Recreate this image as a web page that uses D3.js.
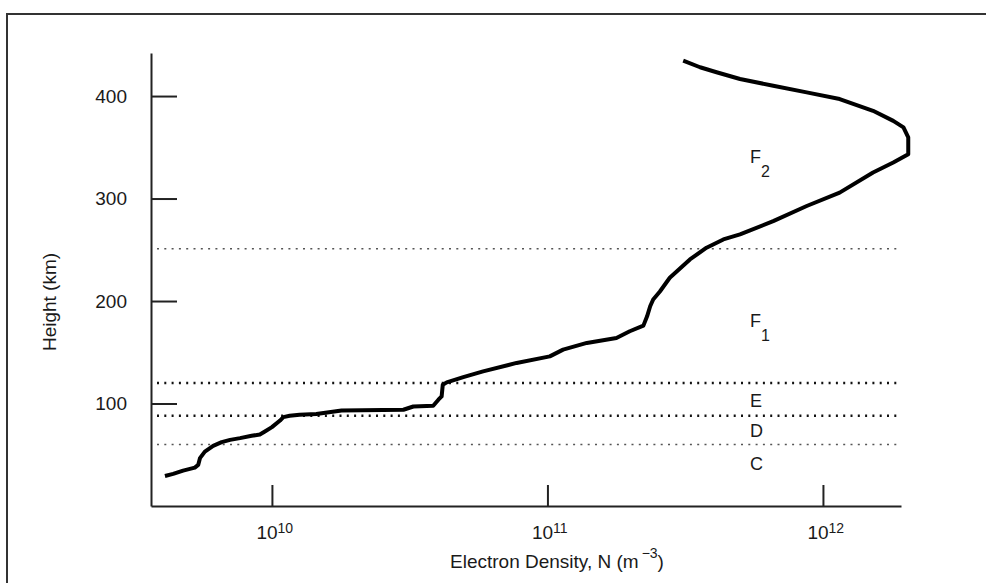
<!DOCTYPE html>
<html>
<head>
<meta charset="utf-8">
<script src="https://cdn.jsdelivr.net/npm/d3@7"></script>
<style>
  body { margin: 0; background: #fff; }
  svg { display: block; }
  text { font-family: "Liberation Sans", Arial, sans-serif; fill: #1a1a1a; }
</style>
</head>
<body>
<script>
// profile, bottom to top
const heightsKm = [29.3, 31.3, 34.5, 37.5, 40.1, 46.7, 53.1, 58.7, 62.3, 64.5,
  66.2, 68.5, 69.7, 72.7, 77.0, 83.4, 86.7, 88.0, 89.0, 89.7,
  93.2, 93.9, 97.1, 97.8, 103.7, 106.9, 118.3, 120.6, 125.7, 131.3,
  139.6, 146.0, 152.6, 159.1, 164.0, 170.5, 176.0, 185.1, 194.9, 201.5,
  209.3, 222.7, 240.6, 252.0, 260.1, 265.0, 278.0, 292.7, 305.8, 325.4,
  335.2, 343.3, 359.6, 369.4, 375.8, 385.6, 397.1, 403.6, 410.1, 416.6,
  423.2, 428.1, 434.5];
const densities = [4.09e9, 4.38e9, 4.76e9, 5.25e9, 5.40e9, 5.48e9, 5.71e9, 6.12e9, 6.57e9, 7.05e9,
  7.66e9, 8.44e9, 9.04e9, 9.43e9, 1.00e10, 1.07e10, 1.10e10, 1.16e10, 1.26e10, 1.45e10,
  1.79e10, 3.00e10, 3.26e10, 3.85e10, 4.02e10, 4.13e10, 4.17e10, 4.31e10, 4.95e10, 5.84e10,
  7.73e10, 1.02e11, 1.14e11, 1.39e11, 1.78e11, 1.99e11, 2.23e11, 2.30e11, 2.36e11, 2.42e11,
  2.56e11, 2.78e11, 3.29e11, 3.78e11, 4.35e11, 5.00e11, 6.60e11, 8.73e11, 1.15e12, 1.52e12,
  1.80e12, 2.04e12, 2.04e12, 1.96e12, 1.80e12, 1.52e12, 1.15e12, 8.73e11, 6.60e11, 5.00e11,
  4.11e11, 3.58e11, 3.11e11];

const densityExtent = [3.64e9, 1.92e12];
const heightExtent = [0, 442];
const decadeTicks = [1e10, 1e11, 1e12];
const decadeExponents = ["10", "11", "12"];
const heightTicks = [100, 200, 300, 400];

// layer boundaries (km) and region labels
const boundaryHeights = [60, 88, 120, 251];
const regionLetters = ["F", "F", "E", "D", "C"];
const regionSubs = ["2", "1", "", "", ""];
const regionHeights = [334.6, 174.6, 96.6, 67.3, 35.1];
const regionDensity = 5.43e11;

const width = 986, height = 583;

const svg = d3.select("body").append("svg")
  .attr("width", width)
  .attr("height", height);

// frame (runs off the right / bottom of the picture)
svg.append("rect")
  .attr("x", 7).attr("y", 14)
  .attr("width", 1000).attr("height", 600)
  .attr("fill", "none")
  .attr("stroke", "#333")
  .attr("stroke-width", 2);

const x = d3.scaleLog().domain(densityExtent).range([151, 901]);
const y = d3.scaleLinear().domain(heightExtent).range([506, 53]);

// dotted boundaries
const boldLines = [88, 120];
svg.selectAll(".bound")
  .data(boundaryHeights)
  .enter()
  .append("line")
  .attr("class", "bound")
  .attr("x1", 157).attr("x2", x.range()[1])
  .attr("y1", d => y(d)).attr("y2", d => y(d))
  .attr("stroke", d => boldLines.includes(d) ? "#111" : "#555")
  .attr("stroke-width", d => boldLines.includes(d) ? 2.6 : 1.6)
  .attr("stroke-dasharray", "2 5.3");

// x axis
const xAxis = svg.append("g")
  .attr("transform", `translate(0,${y(0)})`)
  .call(d3.axisBottom(x).tickValues(decadeTicks).tickSizeInner(-21).tickSizeOuter(0).tickFormat(""));

xAxis.selectAll(".tick text").remove();
xAxis.selectAll(".tick").each(function (d, i) {
  let t = d3.select(this).append("text")
    .attr("x", -16).attr("y", 33)
    .attr("text-anchor", "start")
    .style("font-size", "19px");
  t.append("tspan").text("10");
  t.append("tspan").attr("dy", -6).style("font-size", "14px").text(decadeExponents[i]);
});

// y axis
const yAxis = svg.append("g")
  .attr("transform", `translate(${x.range()[0]},0)`)
  .call(d3.axisLeft(y).tickValues(heightTicks).tickSizeInner(-26).tickSizeOuter(0).tickPadding(24));

yAxis.selectAll(".tick text")
  .attr("font-family", null)
  .style("font-size", "19px")
  .attr("fill", "#1a1a1a");

svg.selectAll(".domain, .tick line")
  .attr("stroke", "#222")
  .attr("stroke-width", 2);

// axis titles
svg.append("text")
  .attr("transform", "translate(56,302) rotate(-90)")
  .attr("text-anchor", "middle")
  .style("font-size", "19px")
  .text("Height (km)");

let xt = svg.append("text")
  .attr("x", 450).attr("y", 568)
  .style("font-size", "19px");
xt.append("tspan").text("Electron Density, N (m");
xt.append("tspan").attr("dx", 3).attr("dy", -10).style("font-size", "14px").text("−3");
xt.append("tspan").attr("dy", 10).text(")");

// profile
const points = heightsKm.map((h, i) => ({ h: h, n: densities[i] }));
const line = d3.line().x(d => x(d.n)).y(d => y(d.h));

svg.append("path")
  .datum(points)
  .attr("d", line)
  .attr("fill", "none")
  .attr("stroke", "#000")
  .attr("stroke-width", 4)
  .attr("stroke-linejoin", "round");

// region labels
regionLetters.forEach(function (letter, i) {
  let t = svg.append("text")
    .attr("x", x(regionDensity))
    .attr("y", y(regionHeights[i]))
    .style("font-size", "18px");
  t.append("tspan").text(letter);
  if (regionSubs[i]) {
    t.append("tspan").attr("dy", 14).style("font-size", "16px").text(regionSubs[i]);
  }
});
</script>
</body>
</html>
